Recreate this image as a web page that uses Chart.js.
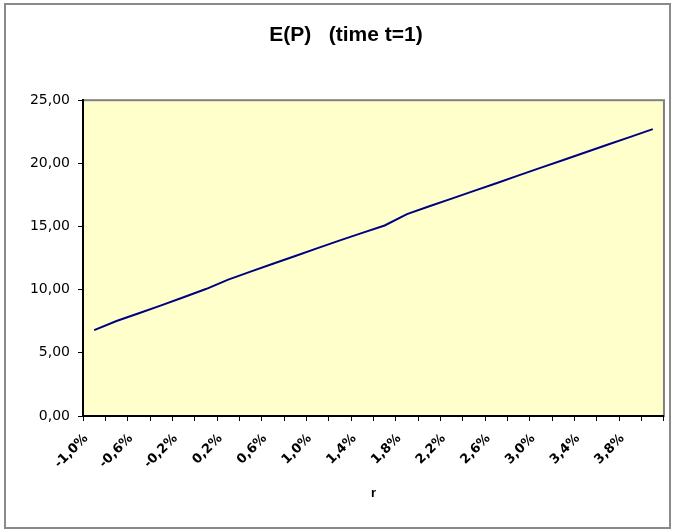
<!DOCTYPE html>
<html>
<head>
<meta charset="utf-8">
<script src="https://cdn.jsdelivr.net/npm/chart.js@4/dist/chart.umd.min.js"></script>
<style>
  html, body { margin: 0; padding: 0; background: #fff; }
  #c { display: block; }
</style>
</head>
<body>
<canvas id="c" width="674" height="531"></canvas>
<script>
// Interest rate r (categories) and expected value E(P) at time t=1
const rates = ['-1,0%', '-0,8%', '-0,6%', '-0,4%', '-0,2%', '0,0%', '0,2%', '0,4%', '0,6%', '0,8%',
               '1,0%', '1,2%', '1,4%', '1,6%', '1,8%', '2,0%', '2,2%', '2,4%', '2,6%', '2,8%',
               '3,0%', '3,2%', '3,4%', '3,6%', '3,8%', '4,0%'];
const expectedP = [6.80, 7.52, 8.13, 8.76, 9.40, 10.05, 10.80, 11.43, 12.05, 12.67,
                   13.29, 13.90, 14.50, 15.08, 15.98, 16.60, 17.21, 17.82, 18.43, 19.05,
                   19.66, 20.27, 20.88, 21.49, 22.10, 22.71];
const yTickLabels = ['0,00', '5,00', '10,00', '15,00', '20,00', '25,00'];

// White page, outer frame and the yellow plot area with its grey border
const framePlugin = {
  id: 'frame',
  beforeDraw(chart) {
    const { ctx, chartArea: a, width, height } = chart;
    ctx.save();
    ctx.fillStyle = '#ffffff';
    ctx.fillRect(0, 0, width, height);
    ctx.strokeStyle = '#8a8a8a';
    ctx.lineWidth = 2;
    ctx.strokeRect(5, 4, width - 9, height - 7);
    ctx.fillStyle = '#ffffcc';
    ctx.fillRect(a.left, a.top, a.right - a.left, a.bottom - a.top);
    ctx.strokeStyle = '#808080';
    ctx.lineWidth = 2;
    ctx.strokeRect(a.left, a.top, a.right - a.left, a.bottom - a.top);
    ctx.restore();
  }
};

new Chart(document.getElementById('c'), {
  type: 'line',
  data: {
    labels: rates,
    datasets: [{
      data: expectedP,
      borderColor: '#000080',
      borderWidth: 2,
      pointRadius: 0,
      tension: 0,
      fill: false
    }]
  },
  options: {
    responsive: false,
    animation: false,
    devicePixelRatio: 1,
    layout: { padding: { left: 28, right: 10, top: 0, bottom: 5 } },
    plugins: {
      legend: { display: false },
      tooltip: { enabled: false },
      title: {
        display: true,
        text: 'E(P)   (time t=1)',
        color: '#000',
        font: { family: 'Liberation Sans', size: 21, weight: 'bold' },
        padding: { top: 23, bottom: 52 }
      }
    },
    scales: {
      x: {
        offset: true,
        grid: { offset: true, drawOnChartArea: false, tickLength: 5, color: '#000', tickWidth: 1 },
        border: { color: '#000', width: 2 },
        ticks: {
          autoSkip: false,
          maxRotation: 45,
          minRotation: 45,
          padding: 10,
          labelOffset: -8,
          color: '#000',
          font: { family: 'DejaVu Sans', size: 13, weight: 'bold' },
          callback: (v, i) => (i % 2 === 0 ? rates[i] : '')
        },
        title: {
          display: true,
          text: 'r',
          color: '#000',
          font: { family: 'Liberation Sans', size: 13, weight: 'bold' },
          padding: { top: 0, bottom: 25 }
        },
        afterFit: (s) => { s.height = 110; }
      },
      y: {
        min: 0,
        max: 25,
        ticks: {
          stepSize: 5,
          padding: 8,
          color: '#000',
          font: { family: 'DejaVu Sans', size: 14 },
          callback: (v, i) => yTickLabels[i]
        },
        grid: { drawOnChartArea: false, tickLength: 5, color: '#000' },
        border: { color: '#000', width: 2 },
        afterFit: (s) => { s.width = 55; }
      }
    }
  },
  plugins: [framePlugin]
});
</script>
</body>
</html>
